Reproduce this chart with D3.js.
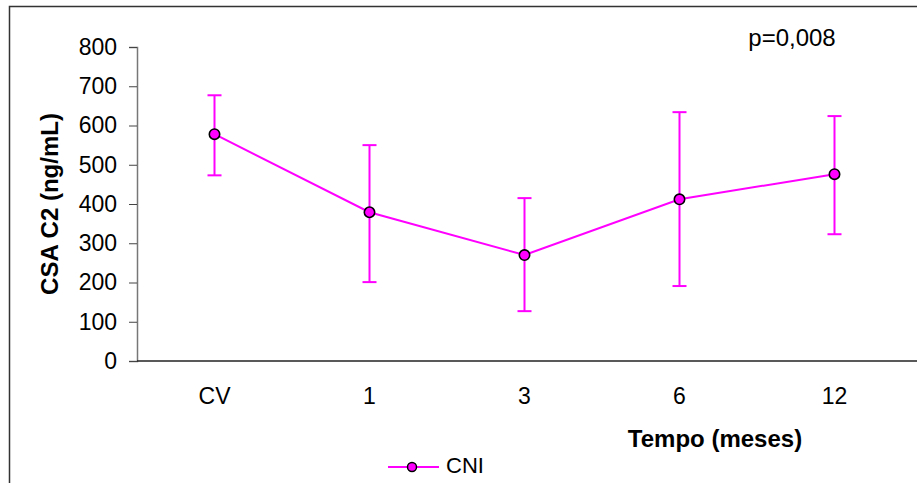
<!DOCTYPE html>
<html>
<head>
  <meta charset="utf-8">
  <script src="https://d3js.org/d3.v7.min.js"></script>
  <style>
    body { margin: 0; background: #fff; font-family: "Liberation Sans", Arial, sans-serif; }
  </style>
</head>
<body>
  <div id="chart"></div>
  <script>
    // data
    var categories = ["CV", "1", "3", "6", "12"];
    var means = [578, 379, 270, 412, 476];
    var upper = [677, 550, 415, 634, 624];
    var lower = [473, 201, 127, 191, 323];
    var yTicks = [0, 100, 200, 300, 400, 500, 600, 700, 800];

    var W = 917, H = 483;
    var margin = { top: 47, right: 5, bottom: 122, left: 137 },
      width = W - margin.left - margin.right,
      height = H - margin.top - margin.bottom;

    var svg = d3.select("#chart")
      .append("svg")
      .attr("width", W)
      .attr("height", H)
      .attr("font-family", "Liberation Sans, Arial, sans-serif");

    // outer frame
    svg.append("rect")
      .attr("x", 9.5).attr("y", 6.5)
      .attr("width", 960).attr("height", 600)
      .attr("fill", "none")
      .attr("stroke", "#333")
      .attr("stroke-width", 1.5);

    var g = svg.append("g")
      .attr("transform", "translate(" + margin.left + "," + margin.top + ")");

    var x = d3.scaleBand().domain(categories).range([0, 775]);
    var y = d3.scaleLinear().domain([0, 800]).range([314, 0]);

    var cx = function(i) { return x(categories[i]) + x.bandwidth() / 2; };

    // y axis
    var yAxis = g.append("g")
      .call(d3.axisLeft(y).tickValues(yTicks).tickSize(8).tickPadding(12));
    yAxis.attr("font-size", 23).attr("font-family", null);
    yAxis.select(".domain").attr("stroke", "#777").attr("stroke-width", 1.5);
    yAxis.selectAll(".tick line").attr("stroke", "#444");
    yAxis.selectAll("text").attr("fill", "#000");

    // x axis baseline
    g.append("line")
      .attr("x1", 0).attr("x2", W)
      .attr("y1", y(0)).attr("y2", y(0))
      .attr("stroke", "#222").attr("stroke-width", 1.5);

    var xAxis = g.append("g")
      .attr("transform", "translate(0," + y(0) + ")")
      .call(d3.axisBottom(x).tickSize(0).tickPadding(27));
    xAxis.attr("font-size", 23).attr("font-family", null);
    xAxis.select(".domain").remove();
    xAxis.selectAll("text").attr("fill", "#000");

    var pink = "#ff00ff";

    // error bars
    var eb = g.selectAll(".eb").data(means).enter().append("g");
    eb.append("line")
      .attr("x1", function(d, i) { return cx(i); })
      .attr("x2", function(d, i) { return cx(i); })
      .attr("y1", function(d, i) { return y(upper[i]); })
      .attr("y2", function(d, i) { return y(lower[i]); })
      .attr("stroke", pink).attr("stroke-width", 2);
    [upper, lower].forEach(function(arr) {
      eb.append("line")
        .attr("x1", function(d, i) { return cx(i) - 7; })
        .attr("x2", function(d, i) { return cx(i) + 7; })
        .attr("y1", function(d, i) { return y(arr[i]); })
        .attr("y2", function(d, i) { return y(arr[i]); })
        .attr("stroke", pink).attr("stroke-width", 2);
    });

    // line
    var line = d3.line()
      .x(function(d, i) { return cx(i); })
      .y(function(d) { return y(d); });
    g.append("path")
      .datum(means)
      .attr("d", line)
      .attr("fill", "none")
      .attr("stroke", pink)
      .attr("stroke-width", 2);

    g.selectAll(".pt").data(means).enter().append("circle")
      .attr("cx", function(d, i) { return cx(i); })
      .attr("cy", function(d) { return y(d); })
      .attr("r", 5.2)
      .attr("fill", pink)
      .attr("stroke", "#000")
      .attr("stroke-width", 1.6);

    // axis titles
    svg.append("text")
      .attr("transform", "translate(58,204) rotate(-90)")
      .attr("text-anchor", "middle")
      .attr("font-size", 24)
      .attr("font-weight", "bold")
      .text("CSA C2 (ng/mL)");

    svg.append("text")
      .attr("x", 715).attr("y", 447)
      .attr("text-anchor", "middle")
      .attr("font-size", 24)
      .attr("font-weight", "bold")
      .text("Tempo (meses)");

    svg.append("text")
      .attr("x", 792).attr("y", 46)
      .attr("text-anchor", "middle")
      .attr("font-size", 24)
      .text("p=0,008");

    // legend
    var leg = svg.append("g").attr("transform", "translate(388,467)");
    leg.append("line").attr("x1", 0).attr("x2", 51).attr("y1", 0).attr("y2", 0)
      .attr("stroke", pink).attr("stroke-width", 2);
    leg.append("circle").attr("cx", 24).attr("cy", 0).attr("r", 4.5)
      .attr("fill", pink).attr("stroke", "#000").attr("stroke-width", 1.5);
    leg.append("text").attr("x", 58).attr("y", 6)
      .attr("font-size", 22).text("CNI");
  </script>
</body>
</html>
